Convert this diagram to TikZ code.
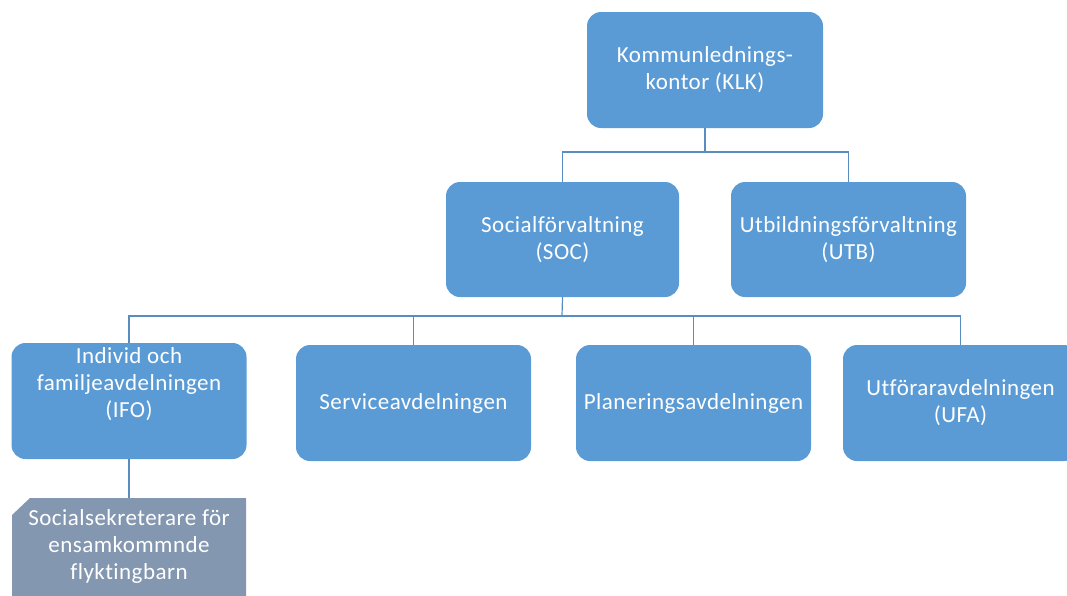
\documentclass[tikz,border=0pt]{standalone}
\usepackage{fontspec}
\setmainfont{Carlito}[Ligatures={NoCommon}, LetterSpace=2]
\usetikzlibrary{positioning}
\definecolor{boxblue}{HTML}{5B9BD5}
\definecolor{linecol}{HTML}{5A8DBF}
\definecolor{graybox}{HTML}{8497B0}
\tikzset{
  lbl/.style={text=white, align=center, font=\fontsize{23}{27}\selectfont, inner sep=0pt},
  unit/.style={lbl, fill=boxblue, rounded corners=14pt, minimum width=235pt, minimum height=116pt},
  conn/.style={draw=linecol, line width=1.2pt},
}
\begin{document}
\begin{tikzpicture}[x=1pt,y=-1pt]
\useasboundingbox (0,0) rectangle (1067,595);
\clip (0,0) rectangle (1067,595);
\node[unit, minimum width=236pt] (klk) at (705,70) {Kommunlednings-\\kontor (KLK)};
\node[unit, minimum width=233pt, minimum height=115pt] (soc) at (562.5,239.5) {Socialförvaltning\\(SOC)};
\node[unit, minimum height=115pt] (utb) at (848.5,239.5) {Utbildningsförvaltning\\(UTB)};
\node[unit] (ifo) at (129,401) {};
\node[lbl] (ifot) at (129,384) {Individ och\\familjeavdelningen\\(IFO)};
\node[unit] (ser) at (413.5,403) {Serviceavdelningen};
\node[unit] (pla) at (693.5,403) {Planeringsavdelningen};
\node[unit] (ufa) at (960.5,403) {Utföraravdelningen\\(UFA)};
\coordinate (klkbus) at (705,152);
\coordinate (socbus) at (562,316);
\draw[conn] (klk.south) -- (klkbus);
\draw[conn] (soc.north) |- (klkbus) -| (utb.north);
\draw[conn] (soc.south) -- (socbus);
\draw[conn] (ifo.north) |- (socbus) -| (ufa.north);
\draw[conn] (ser.north) -- (ser.north |- socbus);
\draw[conn] (pla.north) -- (pla.north |- socbus);
\fill[graybox] (12,515) -- (30,498) -- (246,498) -- (246,620) -- (12,620) -- cycle;
\coordinate (gtop) at (129,498);
\node[lbl] (soc2) at (129,546) {Socialsekreterare för\\ensamkommnde\\flyktingbarn};
\draw[conn] (ifo.south) -- (gtop);
\end{tikzpicture}
\end{document}
